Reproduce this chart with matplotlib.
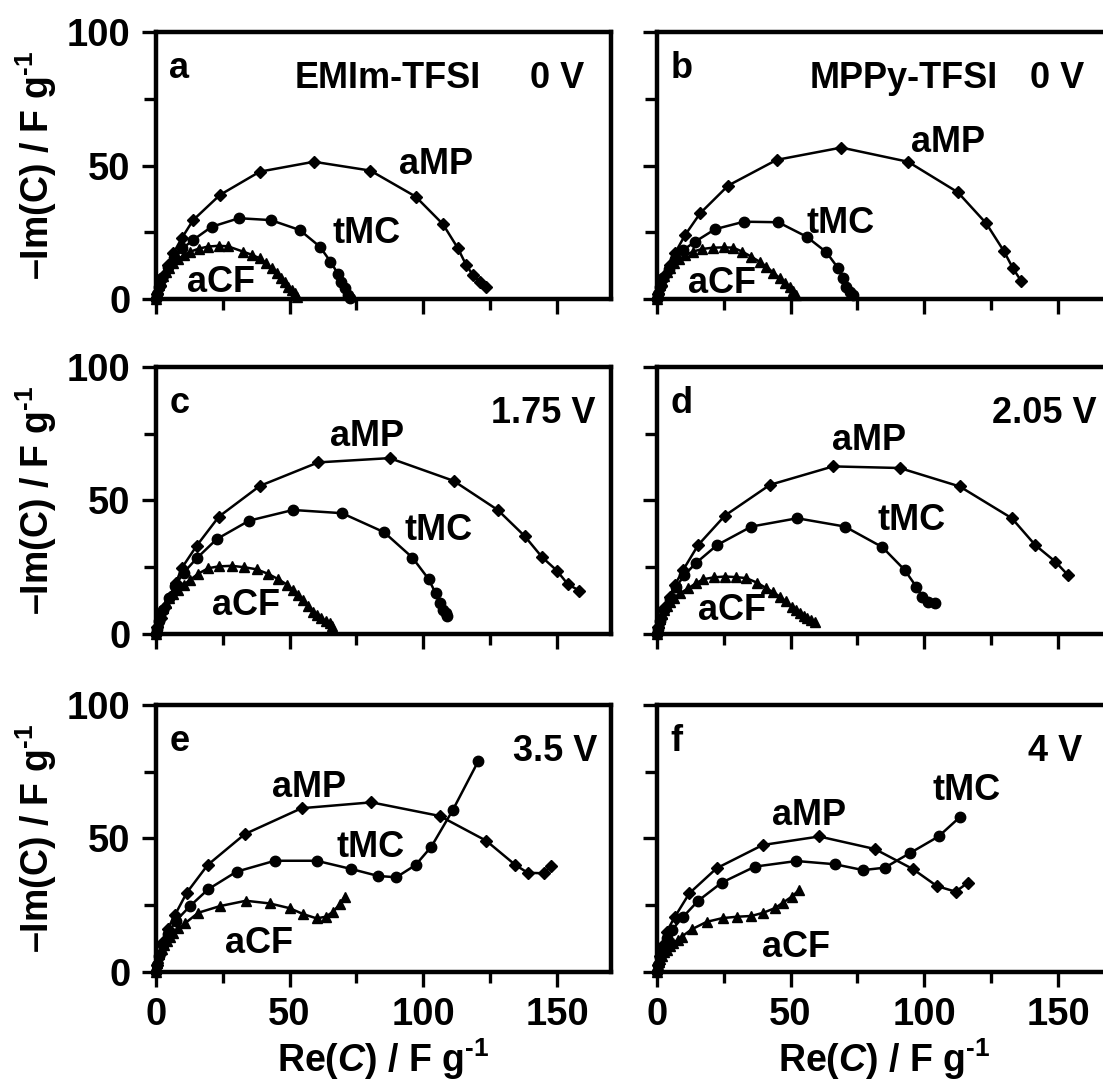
import matplotlib
matplotlib.use('Agg')
import matplotlib.pyplot as plt
from matplotlib.ticker import MultipleLocator

plt.rcParams['font.family'] = ['Liberation Sans', 'DejaVu Sans']
plt.rcParams['font.weight'] = 'bold'
plt.rcParams['mathtext.fontset'] = 'custom'
plt.rcParams['mathtext.rm'] = 'Liberation Sans:bold'
plt.rcParams['mathtext.it'] = 'Liberation Sans:italic:bold'
plt.rcParams['mathtext.bf'] = 'Liberation Sans:bold'

# panel a - EMIm-TFSI 0 V
a_amp_x = [0, 0.5, 1.5, 3, 4.5, 6.6, 9.7, 14.0, 24.0, 38.9, 59.1, 80.2, 97.1, 107.3, 112.9, 116.0, 118.5, 121.0, 123.5]
a_amp_y = [0, 2, 5, 9, 13, 17.2, 22.8, 29.6, 39.0, 47.7, 51.4, 48.1, 38.4, 28.1, 19.1, 12.8, 9.1, 6.6, 4.7]
a_tmc_x = [0, 0.4, 1.2, 2.5, 4.5, 7, 10, 14.0, 20.9, 31.1, 43.0, 53.8, 61.3, 65.3, 68.1, 69.4, 70.6, 71.9, 72.5]
a_tmc_y = [0, 1.8, 4.5, 8, 12, 15.5, 19, 22.2, 27.1, 30.3, 29.6, 25.9, 19.7, 14.1, 9.5, 6.6, 4.1, 1.6, 0.6]
a_acf_x = [0, 0.2, 0.5, 0.9, 1.4, 2.0, 2.8, 3.8, 5.0, 6.5, 8.3, 10.5, 13.0, 16.0, 19.5, 23.5, 27.0, 32.7, 36.0,
           38.9, 41.2, 43.3, 45.2, 47.0, 48.3, 49.5, 50.8, 52.0, 52.8]
a_acf_y = [0, 1.2, 2.5, 4, 5.5, 7, 8.6, 10.2, 11.8, 13.4, 15.0, 16.5, 17.8, 18.9, 19.7, 20.0, 19.8, 17.8, 16.6,
           15.3, 13.6, 11.6, 9.8, 7.9, 6.3, 4.7, 3.4, 2.2, 1.0]

# panel b - MPPy-TFSI 0 V
b_amp_x = [0, 0.5, 1.5, 3, 4.8, 6.8, 10.6, 16.2, 26.7, 44.8, 69.0, 93.9, 112.5, 123.1, 129.6, 133.1, 136.2]
b_amp_y = [0, 2, 5, 9, 13, 17.2, 24.0, 32.1, 42.5, 52.1, 56.7, 51.4, 40.0, 28.4, 18.2, 11.6, 6.8]
b_tmc_x = [0, 0.4, 1.2, 2.5, 4.5, 7, 10, 14.3, 21.8, 32.6, 45.4, 56.0, 63.4, 67.8, 69.6, 70.9, 72.1, 73.4]
b_tmc_y = [0, 1.8, 4.5, 8, 11.5, 15, 18.5, 21.5, 26.2, 29.0, 28.8, 23.4, 17.6, 11.6, 7.9, 4.7, 2.8, 1.6]
b_acf_x = [0, 0.2, 0.5, 0.9, 1.4, 2.0, 2.8, 3.8, 5.0, 6.5, 8.5, 10.6, 13.5, 17.0, 21.0, 25.0, 28.6, 32.0, 35.4,
           38.5, 41.0, 43.5, 46.0, 48.0, 49.7, 51.0, 52.2]
b_acf_y = [0, 1.2, 2.5, 4, 5.5, 7, 8.6, 10.2, 11.8, 13.4, 15.0, 16.4, 17.8, 18.8, 19.3, 19.4, 19.3, 17.8, 15.9,
           14.0, 12.2, 10.0, 7.9, 6.2, 4.7, 3.0, 1.6]

# panel c - 1.75 V
c_amp_x = [0, 0.6, 1.8, 3.5, 5.5, 7.5, 9.7, 15.3, 23.6, 38.9, 60.7, 87.4, 111.3, 127.8, 137.8, 144.4, 149.9, 154.0, 158.3]
c_amp_y = [0, 2.5, 6, 10, 14, 19, 24.6, 33.0, 43.9, 55.4, 64.2, 65.8, 57.3, 46.4, 36.7, 28.7, 23.7, 18.6, 16.2]
c_tmc_x = [0, 0.4, 1.3, 2.8, 4.8, 7.2, 10.5, 15.3, 22.8, 34.9, 51.3, 69.6, 85.3, 95.9, 102.0, 104.6, 106.1, 107.5, 108.3, 108.8]
c_tmc_y = [0, 2, 5, 9, 13.5, 18, 23, 28.3, 35.5, 42.4, 46.4, 45.2, 38.1, 28.6, 20.5, 15.2, 11.5, 9.0, 7.8, 6.8]
c_acf_x = [0, 0.2, 0.5, 0.9, 1.4, 2.0, 2.8, 3.8, 5.0, 6.5, 8.4, 10.5, 12.8, 15.8, 19.6, 23.5, 28.4, 33, 37.7, 42,
           45.8, 49, 51.3, 53.3, 55.1, 57, 58.8, 60.4, 61.9, 63.5, 65.0, 66.0]
c_acf_y = [0, 1.3, 2.8, 4.5, 6.2, 8, 9.8, 11.6, 13.4, 15.0, 16.5, 18.5, 20.2, 22.5, 24.6, 25.3, 25.5, 25.0, 24.2, 22.5,
           20.5, 18.5, 16.5, 14.6, 12.7, 10.5, 8.4, 7.1, 5.9, 4.9, 4.0, 3.0]

# panel d - 2.05 V
d_amp_x = [0, 0.5, 1.5, 3, 4.8, 6.8, 9.9, 15.5, 25.5, 42.3, 65.9, 90.8, 113.2, 132.7, 141.4, 148.9, 153.6]
d_amp_y = [0, 2.5, 6, 10, 14, 18.4, 24.0, 33.3, 44.3, 55.8, 62.7, 62.1, 55.2, 43.3, 33.3, 27.1, 22.1]
d_tmc_x = [0, 0.4, 1.3, 2.8, 4.8, 7.2, 10.3, 14.6, 22.6, 35.4, 52.5, 70.3, 84.3, 92.6, 97.0, 99.3, 101.3, 103.8]
d_tmc_y = [0, 2, 5, 9, 13, 17.5, 22, 26.5, 33.3, 40.2, 43.3, 40.2, 32.5, 24.0, 17.7, 14.0, 12.1, 11.5]
d_acf_x = [0, 0.2, 0.5, 0.9, 1.4, 2.0, 2.8, 3.8, 5.0, 6.5, 8.7, 11.8, 14.5, 17.4, 21.5, 25.5, 29.5, 33.5, 37.5,
           41.0, 43.5, 46.0, 48.3, 50.4, 52.0, 53.5, 55.0, 56.0, 57.5, 59.1]
d_acf_y = [0, 1.2, 2.6, 4.1, 5.7, 7.3, 9.0, 10.6, 12.1, 13.6, 15.2, 17.1, 18.9, 20.5, 21.2, 21.5, 21.3, 20.9, 19.2,
           17.1, 15.6, 14.0, 12.2, 10.2, 8.9, 7.7, 6.7, 5.9, 5.2, 4.6]

# panel e - 3.5 V
e_amp_x = [0, 0.5, 1.5, 2.8, 4.5, 7.2, 11.6, 19.4, 33.3, 54.5, 80.6, 106.1, 123.5, 134.4, 139.0, 144.9, 147.8]
e_amp_y = [0, 2.5, 6.5, 11, 16, 21.3, 29.6, 40.0, 51.6, 61.3, 63.5, 58.4, 49.1, 40.0, 37.1, 36.9, 39.7]
e_tmc_x = [0, 0.4, 1.3, 2.6, 4.5, 7.5, 12.8, 19.6, 30.2, 44.5, 60.1, 73.1, 83.1, 89.9, 97.1, 103.0, 111.0, 120.6]
e_tmc_y = [0, 2.5, 6, 10, 14, 19, 24.6, 30.9, 37.5, 41.6, 41.6, 38.5, 35.9, 35.4, 40.0, 46.9, 60.6, 79.1]
e_acf_x = [0, 0.2, 0.5, 0.9, 1.4, 2.2, 3.0, 4.1, 5.2, 6.6, 8.5, 10.9, 15.9, 24.0, 33.7, 42.6, 50.1, 55.1, 60.1,
           63.5, 66.3, 68.8, 70.6]
e_acf_y = [0, 1.5, 3.2, 5.0, 6.8, 8.6, 10.0, 11.5, 13.0, 14.4, 16.2, 18.1, 22.1, 24.6, 26.6, 25.6, 23.8, 21.6, 20.0,
           20.6, 22.5, 25.4, 28.1]

# panel f - 4 V
f_amp_x = [0, 0.4, 1.2, 2.3, 3.7, 6.8, 12.2, 22.4, 39.6, 60.7, 81.5, 95.7, 104.7, 111.7, 116.3]
f_amp_y = [0, 2.5, 6, 10, 15.0, 20.6, 29.4, 38.8, 47.5, 50.7, 46.0, 38.5, 32.1, 30.0, 33.4]
f_tmc_x = [0, 0.4, 1.2, 2.3, 3.8, 5.6, 9.9, 15.5, 24.3, 36.7, 52.2, 66.5, 77.1, 85.2, 94.5, 105.3, 113.2]
f_tmc_y = [0, 2.5, 5.5, 9, 12.5, 15.6, 20.6, 26.6, 33.4, 39.4, 41.5, 40.3, 38.1, 39.0, 44.4, 50.7, 57.9]
f_acf_x = [0, 0.2, 0.5, 0.9, 1.4, 2.0, 2.8, 3.7, 5.0, 6.2, 7.8, 9.3, 13.1, 18.7, 24.6, 29.9, 35.4, 39.8, 44.1,
           47.2, 50.4, 53.2]
f_acf_y = [0, 1.2, 2.5, 3.7, 4.8, 6.0, 7.2, 8.3, 9.5, 10.6, 12.0, 13.1, 15.9, 18.7, 20.1, 20.6, 20.9, 22.1, 23.8,
           25.9, 28.1, 30.6]

panel_letters = ['a', 'b', 'c', 'd', 'e', 'f']
voltages = ['0 V', '0 V', '1.75 V', '2.05 V', '3.5 V', '4 V']
electrolytes = ['EMIm-TFSI', 'MPPy-TFSI', '', '', '', '']

# label positions (data coords) for aMP, tMC, aCF in each panel
amp_label_pos = [(91, 47), (95, 55), (65, 70.5), (65.5, 69), (43.5, 65.5), (43, 55)]
tmc_label_pos = [(66, 21), (56, 24.8), (93, 35), (82.5, 39), (67.5, 43), (103, 64.5)]
acf_label_pos = [(11.7, 2.7), (11.7, 2.4), (21, 7), (15.4, 5.2), (26, 7), (39.3, 5.5)]
volt_x = [0.823, 0.82, 0.738, 0.737, 0.786, 0.816]

series = [
    (a_amp_x, a_amp_y, a_tmc_x, a_tmc_y, a_acf_x, a_acf_y),
    (b_amp_x, b_amp_y, b_tmc_x, b_tmc_y, b_acf_x, b_acf_y),
    (c_amp_x, c_amp_y, c_tmc_x, c_tmc_y, c_acf_x, c_acf_y),
    (d_amp_x, d_amp_y, d_tmc_x, d_tmc_y, d_acf_x, d_acf_y),
    (e_amp_x, e_amp_y, e_tmc_x, e_tmc_y, e_acf_x, e_acf_y),
    (f_amp_x, f_amp_y, f_tmc_x, f_tmc_y, f_acf_x, f_acf_y),
]

W, H = 1103, 1084
fig = plt.figure(figsize=(W / 100, H / 100), dpi=100)

col_left = [155.7, 656.7]
col_w = 455.0
row_top = [31.7, 366.7, 705.0]
row_h = [267.6, 267.3, 266.7]

TICK_FS = 27.5
LABEL_FS = 27
TEXT_FS = 26
for i in range(6):
    r, c = divmod(i, 2)
    rect = [col_left[c] / W, 1 - (row_top[r] + row_h[r]) / H, col_w / W, row_h[r] / H]
    ax = fig.add_axes(rect)
    amp_x, amp_y, tmc_x, tmc_y, acf_x, acf_y = series[i]

    ax.plot(amp_x, amp_y, '-', color='black', lw=1.8, marker='D', ms=6, clip_on=False, zorder=3)
    ax.plot(tmc_x, tmc_y, '-', color='black', lw=1.8, marker='o', ms=7.5, clip_on=False, zorder=3)
    ax.plot(acf_x, acf_y, '-', color='black', lw=1.8, marker='^', ms=7.5, clip_on=False, zorder=3)

    ax.set_xlim(0, 170)
    ax.set_ylim(0, 100)
    ax.xaxis.set_major_locator(MultipleLocator(50))
    ax.xaxis.set_minor_locator(MultipleLocator(25))
    ax.yaxis.set_major_locator(MultipleLocator(50))
    ax.yaxis.set_minor_locator(MultipleLocator(25))
    for s in ax.spines.values():
        s.set_linewidth(3.2)
    ax.tick_params(axis='x', which='major', direction='out', length=11, width=2.4, pad=7, labelsize=TICK_FS)
    ax.tick_params(axis='x', which='minor', direction='out', length=8, width=2.4)
    ax.tick_params(axis='y', which='major', direction='out', length=10, width=2.4, pad=8, labelsize=TICK_FS)
    ax.tick_params(axis='y', which='minor', direction='out', length=9, width=2.4)
    if r != 2:
        ax.tick_params(axis='x', labelbottom=False)
    else:
        ax.set_xlabel(r'Re($C$) / F g$^{\text{-}1}$', fontsize=LABEL_FS, fontweight='bold', labelpad=3)
    if c == 1:
        ax.tick_params(axis='y', labelleft=False)
    else:
        ax.set_ylabel('\u2013Im(C) / F g$^{\\text{-}1}$', fontsize=LABEL_FS, fontweight='bold', labelpad=6)

    ax.text(0.03, 0.828, panel_letters[i], transform=ax.transAxes, fontsize=TEXT_FS, fontweight='bold')
    if electrolytes[i]:
        ax.text(0.306 if c == 0 else 0.337, 0.79, electrolytes[i], transform=ax.transAxes,
                fontsize=TEXT_FS, fontweight='bold')
    ax.text(volt_x[i], 0.79, voltages[i], transform=ax.transAxes, fontsize=TEXT_FS, fontweight='bold')

    ax.text(*amp_label_pos[i], 'aMP', fontsize=TEXT_FS, fontweight='bold')
    ax.text(*tmc_label_pos[i], 'tMC', fontsize=TEXT_FS, fontweight='bold')
    ax.text(*acf_label_pos[i], 'aCF', fontsize=TEXT_FS, fontweight='bold')

fig.savefig('out.png', dpi=100)
